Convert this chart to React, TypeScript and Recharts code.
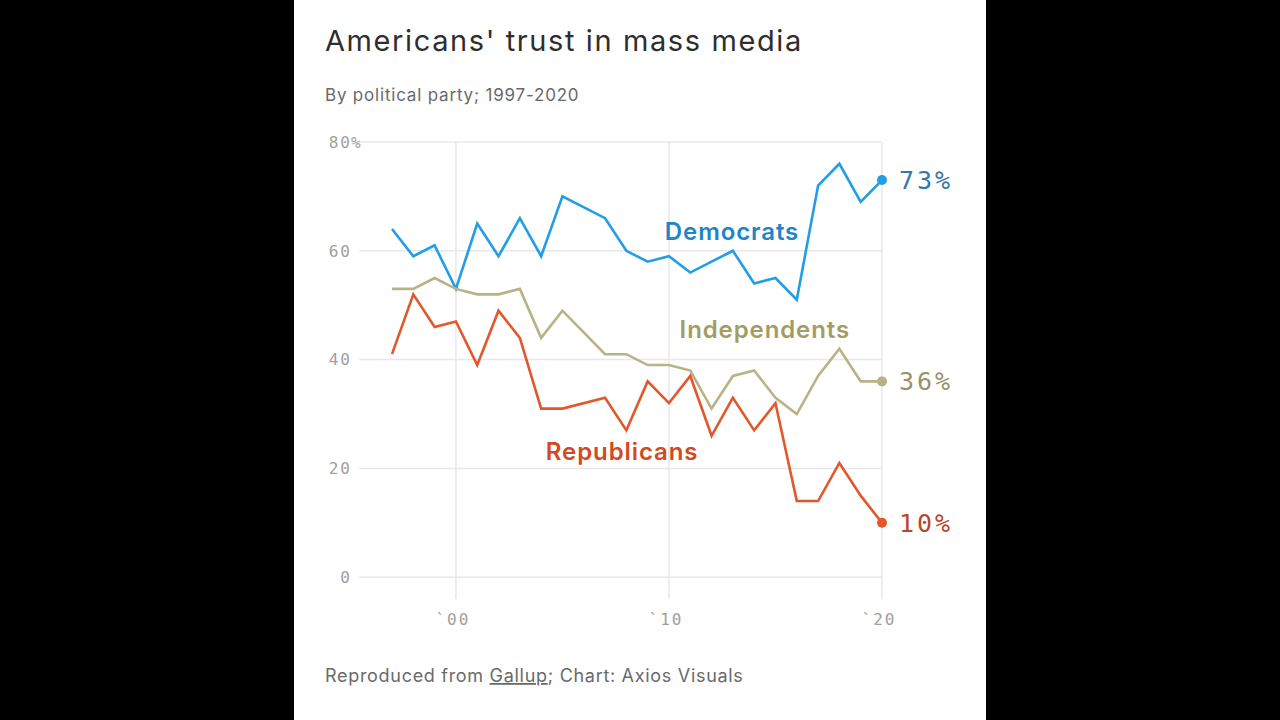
import React from 'react';
import { LineChart, Line, XAxis, YAxis, CartesianGrid, ReferenceDot } from 'recharts';

const years = [1997, 1998, 1999, 2000, 2001, 2002, 2003, 2004, 2005, 2007, 2008, 2009, 2010, 2011, 2012, 2013, 2014, 2015, 2016, 2017, 2018, 2019, 2020];
const democrats = [64, 59, 61, 53, 65, 59, 66, 59, 70, 66, 60, 58, 59, 56, 58, 60, 54, 55, 51, 72, 76, 69, 73];
const independents = [53, 53, 55, 53, 52, 52, 53, 44, 49, 41, 41, 39, 39, 38, 31, 37, 38, 33, 30, 37, 42, 36, 36];
const republicans = [41, 52, 46, 47, 39, 49, 44, 31, 31, 33, 27, 36, 32, 37, 26, 33, 27, 32, 14, 14, 21, 15, 10];
const yTicks = [0, 20, 40, 60, 80];
const xTicks = [2000, 2010, 2020];
const xTickLabels = ['`00', '`10', '`20'];

const seriesNames = ['Democrats', 'Independents', 'Republicans'];
const seriesLabelYears = [2012.96, 2014.5, 2007.8];
const seriesLabelValues = [63.6, 45.6, 23.2];

const data = years.map((y, i) => ({
  year: y,
  dem: democrats[i],
  ind: independents[i],
  rep: republicans[i],
}));

const MONO = '"DejaVu Sans Mono", "Liberation Mono", monospace';
const SANS = 'Inter, "Noto Sans", "Open Sans", sans-serif';

const lineColors = { dem: '#219ee6', ind: '#b8b386', rep: '#e2572c' };
const textColors = { dem: '#1d85c8', ind: '#a39d63', rep: '#d24a22' };
const endTextColors = { dem: '#3677a6', ind: '#98936a', rep: '#b8472a' };

const makeEndDot = (key: 'dem' | 'ind' | 'rep') => (props: any) => {
  const { cx, cy, index, payload } = props;
  if (index !== years.length - 1) return <g key={`d-${key}-${index}`} />;
  return (
    <g key={`d-${key}-${index}`}>
      <circle cx={cx} cy={cy} r={5} fill={lineColors[key]} />
      <text
        x={cx + 17}
        y={cy}
        dy="0.36em"
        fill={endTextColors[key]}
        fontFamily={MONO}
        fontSize={25}
        letterSpacing={3}
      >
        {payload[key]}%
      </text>
    </g>
  );
};

const YTick = (props: any) => {
  const { x, y, payload } = props;
  return (
    <g>
      <text x={x} y={y} dy="0.36em" textAnchor="end" fill="#a0a0a0" fontFamily={MONO} fontSize={16} letterSpacing={2}>
        {payload.value}
      </text>
      {payload.value === 80 ? (
        <text x={x - 1} y={y} dy="0.36em" textAnchor="start" fill="#a0a0a0" fontFamily={MONO} fontSize={16}>
          %
        </text>
      ) : null}
    </g>
  );
};

const XTick = (props: any) => {
  const { x, y, payload } = props;
  const idx = xTicks.indexOf(payload.value);
  return (
    <text x={x - 3} y={y} dy="0.71em" textAnchor="middle" fill="#a0a0a0" fontFamily={MONO} fontSize={16} letterSpacing={2}>
      {xTickLabels[idx]}
    </text>
  );
};

export default function App() {
  const keys: ('dem' | 'ind' | 'rep')[] = ['dem', 'ind', 'rep'];
  return (
    <div style={{ position: 'fixed', left: 0, top: 0, width: 1280, height: 720, background: '#000', overflow: 'hidden' }}>
      <div style={{ position: 'absolute', left: 294, top: 0, width: 692, height: 720, background: '#fff' }}>
        <svg width={692} height={720} style={{ position: 'absolute', left: 0, top: 0 }}>
          <text x={31} y={51} fill="#2e2e2e" fontFamily={SANS} fontSize={29} letterSpacing={1.6}>
            Americans' trust in mass media
          </text>
          <text x={31} y={101} fill="#6a6a6a" fontFamily={SANS} fontSize={17} letterSpacing={0.8}>
            By political party; 1997-2020
          </text>
          <text x={31} y={682} fill="#6a6a6a" fontFamily={SANS} fontSize={18} letterSpacing={0.7}>
            Reproduced from <tspan textDecoration="underline">Gallup</tspan>; Chart: Axios Visuals
          </text>
        </svg>
        <div style={{ position: 'absolute', left: 0, top: 0 }}>
          <LineChart width={692} height={720} data={data} margin={{ top: 142, right: 104, bottom: 91, left: 15 }}>
            <CartesianGrid stroke="#e8e8e8" strokeWidth={1.5} syncWithTicks />
            <XAxis
              dataKey="year"
              type="number"
              domain={[1995.45, 2020]}
              ticks={xTicks}
              axisLine={false}
              tickLine={false}
              tickSize={0}
              tickMargin={15}
              height={30}
              tick={<XTick />}
            />
            <YAxis
              type="number"
              domain={[-4, 80]}
              ticks={yTicks}
              axisLine={false}
              tickLine={false}
              tickSize={0}
              tickMargin={7}
              width={50}
              tick={<YTick />}
            />
            {keys.map((k) => (
              <Line
                key={k}
                type="linear"
                dataKey={k}
                stroke={lineColors[k]}
                strokeWidth={2.6}
                dot={makeEndDot(k)}
                activeDot={false}
                isAnimationActive={false}
              />
            ))}
            {keys.map((k, i) => (
              <ReferenceDot
                key={`lbl-${k}`}
                x={seriesLabelYears[i]}
                y={seriesLabelValues[i]}
                r={0}
                fill="none"
                stroke="none"
                label={{
                  value: seriesNames[i],
                  position: 'center',
                  fill: textColors[k],
                  fontSize: 24,
                  fontWeight: 600,
                  fontFamily: SANS,
                  letterSpacing: 0.9,
                }}
              />
            ))}
          </LineChart>
        </div>
      </div>
    </div>
  );
}
